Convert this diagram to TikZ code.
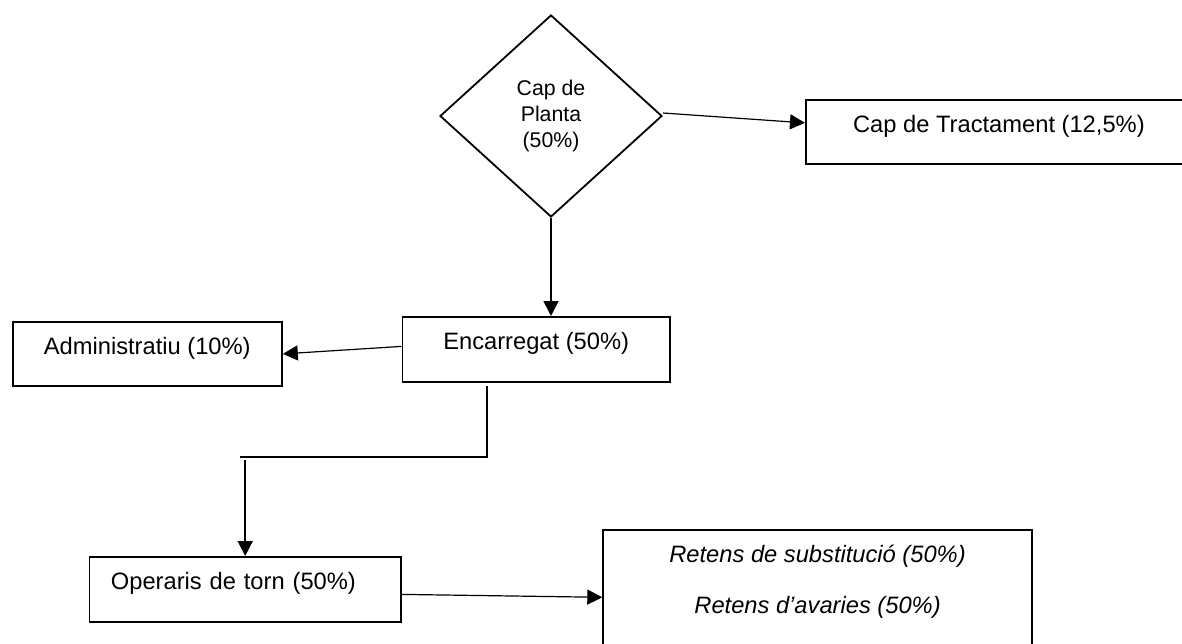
\documentclass[tikz,border=0pt]{standalone}
\usepackage{fontspec}
\setmainfont{Liberation Sans}
\usetikzlibrary{shapes.geometric,arrows.meta,calc}
\begin{document}
\begin{tikzpicture}[x=1pt,y=-1pt,
  box/.style={draw, line width=1.8pt, rectangle, inner sep=0pt, anchor=north west,
    font=\fontsize{23.7}{28}\selectfont, text height=33pt},
  diam/.style={draw, diamond, line width=1.8pt, inner sep=0pt, aspect=1.1,
    minimum width=222pt, minimum height=202pt, align=center,
    font=\fontsize{21.3}{26}\selectfont},
  conn/.style={line width=1.2pt, -{Triangle[length=15pt,width=15pt]}},
  elbow/.style={line width=2pt},
  itxt/.style={anchor=base, inner sep=0pt, font=\fontsize{23.7}{28}\selectfont\itshape}]
\useasboundingbox (0,0) rectangle (1182,644);
\clip (0,0) rectangle (1182,644);
\fill[white] (0,0) rectangle (1182,644);

\node[diam] (dia) at (551,116) {Cap de\\Planta\\(50\%)};
\node[box, minimum width=386pt, minimum height=64pt, text depth=31pt] (ct) at (805,99) {Cap de Tractament (12,5\%)};
\node[box, minimum width=269.3pt, minimum height=64pt, text depth=31pt] (adm) at (11.7,321) {Administratiu (10\%)};
\node[box, minimum width=267.5pt, minimum height=65pt, text depth=32pt] (enc) at (401.5,316) {Encarregat (50\%)};
\node[box, text width=268.6pt, inner xsep=21.4pt, align=left, minimum height=65pt, text depth=32pt] (op) at (88.6,556) {Operaris de torn (50\%)};
\node[box, minimum width=428.7pt, minimum height=130pt] (ret) at (602.3,529.3) {};
\node[itxt] (r1) at ($(ret.north)+(0,33)$) {Retens de substitució (50\%)};
\node[itxt] (r2) at ($(ret.north)+(0,84)$) {Retens d’avaries (50\%)};

\draw[conn] ($(dia.east)+(0,-3)$) -- ($(ct.west)+(0,-9)$);
\draw[conn, line width=1.6pt] (dia.south) -- (dia.south |- enc.north);
\draw[conn] ($(enc.west)+(0,-3)$) -- (adm.east);
\coordinate (e1) at ($(enc.south)+(-49,3)$);
\coordinate (e2) at (240,457.3);
\coordinate (e3) at ($(op.north)+(0,-96.5)$);
\draw[elbow] (e1) |- (e2);
\draw[conn, line width=1.6pt] (e3) -- (op.north);
\coordinate (rin) at ($(ret.north west)+(0,68)$);
\draw[conn] ($(op.east)+(0,5)$) -- (rin);
\end{tikzpicture}
\end{document}
